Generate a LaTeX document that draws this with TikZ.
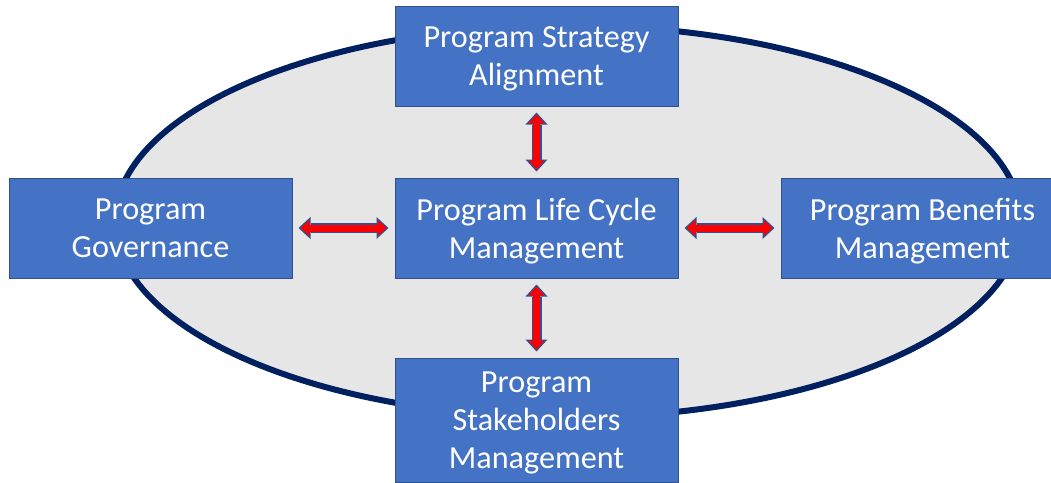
\documentclass[tikz,border=0pt]{standalone}
\usepackage{fontspec}
\setmainfont{Carlito}
\usetikzlibrary{arrows.meta,positioning}
\definecolor{pgmblue}{RGB}{68,114,196}
\definecolor{pgmedge}{RGB}{47,82,143}
\definecolor{ringnavy}{RGB}{0,32,96}
\definecolor{ringfill}{RGB}{230,230,230}
\definecolor{linkred}{RGB}{255,0,0}

\begin{document}
\begin{tikzpicture}[
  x=1pt, y=-1pt,
  area/.style={rectangle, draw=pgmedge, line width=1pt, fill=pgmblue,
               minimum width=283pt, minimum height=100pt, align=center,
               inner sep=0pt, text=white, text depth=-5pt,
               font=\fontsize{32.2}{38}\selectfont},
  ring/.style={draw=ringnavy, line width=6pt, fill=ringfill},
  linkout/.style={>={Triangle[length=12pt,width=22pt,line width=0pt]}, <->,
                  line width=10pt, pgmedge, shorten <=6pt, shorten >=6pt},
  linkin/.style={>={Triangle[length=9pt,width=16pt,line width=0pt]}, <->,
                 line width=7pt, linkred, shorten <=8pt, shorten >=8pt}
]
\clip (0,0) rectangle (1051,482);
\draw[ring] (568,221.5) ellipse [x radius=453pt, y radius=196pt];

\node[area] (life) at (536.5,228) {Program Life Cycle\\Management};
\node[area, above=71pt of life] (strategy) {Program Strategy\\Alignment};
\node[area, left=102pt of life] (govern) {Program\\Governance};
\node[area, right=102pt of life] (benefit) {Program Benefits\\Management};
\node[area, below=79pt of life, minimum height=124pt] (stake)
  {Program\\Stakeholders\\Management};

% two passes: outline then red fill
\foreach \other in {strategy,govern,benefit,stake}{
  \draw[linkout] (\other) -- (life);
  \draw[linkin] (\other) -- (life);
}
\end{tikzpicture}
\end{document}
